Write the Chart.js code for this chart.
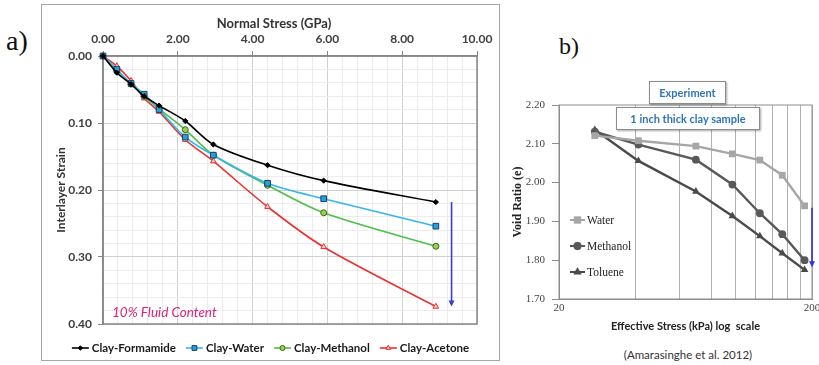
<!DOCTYPE html>
<html>
<head>
<meta charset="utf-8">
<script src="https://cdn.jsdelivr.net/npm/chart.js@4.4.1/dist/chart.umd.min.js"></script>
<style>
    html, body { margin: 0; padding: 0; background: #fff; }
    body { position: relative; width: 819px; height: 365px; overflow: hidden; }
    .tag { position: absolute; font-family: "Liberation Serif", serif; color: #111; line-height: 1; }
    #frame-a { position: absolute; left: 41px; top: 4px; width: 457px; height: 355px; border: 1.5px solid #a6a6a6; }
    #chart-a { position: absolute; left: 0; top: 0; }
    #chart-b { position: absolute; left: 505px; top: 95px; }
    .note { position: absolute; background: #fff; border: 1px solid #8c8c8c; box-shadow: 1px 1px 2px rgba(0,0,0,0.35);
            color: #2e75b6; font: bold 11px Lato, sans-serif; text-align: center; line-height: 21px; }
    #cite { position: absolute; left: 588px; width: 200px; top: 348px; text-align: center; font: 11.5px Lato, sans-serif; color: #333; }
</style>
</head>
<body>
<div class="tag" style="left:6px;top:27px;font-size:28px;">a)</div>
<div class="tag" style="left:559px;top:34px;font-size:24px;">b)</div>
<div id="frame-a"><canvas id="chart-a" width="457" height="355"></canvas></div>
<canvas id="chart-b" width="314" height="250"></canvas>
<div class="note" style="left:649px;top:81px;width:75px;height:21px;">Experiment</div>
<div class="note" style="left:616px;top:107px;width:142px;height:21px;">1 inch thick clay sample</div>
<div id="cite">(Amarasinghe et al. 2012)</div>
<script>
// --- chart a data: interlayer strain vs normal stress ---
const stressGPa = [0, 0.37, 0.75, 1.1, 1.5, 2.2, 2.95, 4.4, 5.9, 8.9];
const strainFormamide = [0, 0.025, 0.042, 0.060, 0.074, 0.097, 0.132, 0.163, 0.186, 0.218];
const strainWater = [0, 0.020, 0.041, 0.057, 0.080, 0.121, 0.148, 0.190, 0.213, 0.254];
const strainMethanol = [0, 0.022, 0.042, 0.060, 0.079, 0.110, 0.148, 0.193, 0.234, 0.284];
const strainAcetone = [0, 0.015, 0.037, 0.063, 0.083, 0.125, 0.157, 0.225, 0.285, 0.374];
const arrowA = { x: 9.32, from: 0.218, to: 0.374 };

// --- chart b data: void ratio vs effective stress (log) ---
const stressKPa = [27.7, 41.2, 69.5, 96.9, 124.4, 152.6, 187];
const voidWater = [2.121, 2.108, 2.094, 2.074, 2.058, 2.019, 1.940];
const voidMethanol = [2.131, 2.098, 2.059, 1.995, 1.921, 1.867, 1.800];
const voidToluene = [2.136, 2.056, 1.977, 1.914, 1.862, 1.818, 1.775];
const kpaGrid = [20, 40, 60, 80, 100, 120, 140, 160, 180, 200];
const arrowB = { x: 200, from: 1.935, to: 1.782 };

const pairs = (xs, ys) => xs.map((x, i) => ({ x: x, y: ys[i] }));
const isMult = (v, step) => Math.abs(v / step - Math.round(v / step)) < 1e-6;

function drawMarker(ctx, shape, x, y, r, fill, stroke, lw) {
    ctx.beginPath();
    if (shape === 'circle') {
        ctx.arc(x, y, r, 0, Math.PI * 2);
    } else if (shape === 'rect') {
        const s = r * Math.SQRT1_2;
        ctx.rect(x - s, y - s, 2 * s, 2 * s);
    } else if (shape === 'rectRot') {
        ctx.moveTo(x, y - r); ctx.lineTo(x + r, y); ctx.lineTo(x, y + r); ctx.lineTo(x - r, y); ctx.closePath();
    } else if (shape === 'triangle') {
        for (let k = 0; k < 3; k++) {
            const a = k * 2 * Math.PI / 3;
            const px = x + Math.sin(a) * r, py = y - Math.cos(a) * r;
            k === 0 ? ctx.moveTo(px, py) : ctx.lineTo(px, py);
        }
        ctx.closePath();
    }
    ctx.fillStyle = fill; ctx.fill();
    ctx.lineWidth = lw; ctx.strokeStyle = stroke; ctx.stroke();
}

function drawArrow(ctx, x, y0, y1, color) {
    ctx.save();
    ctx.strokeStyle = color; ctx.fillStyle = color; ctx.lineWidth = 1.6;
    ctx.beginPath(); ctx.moveTo(x, y0); ctx.lineTo(x, y1 - 5); ctx.stroke();
    ctx.beginPath(); ctx.moveTo(x - 3, y1 - 6); ctx.lineTo(x + 3, y1 - 6); ctx.lineTo(x, y1); ctx.closePath(); ctx.fill();
    ctx.restore();
}

function seriesA(label, values, line, fill, edge, shape, r) {
    return {
        label, data: pairs(stressGPa, values), borderColor: line, borderWidth: 1.6,
        pointStyle: shape, pointRadius: r, pointBackgroundColor: fill, pointBorderColor: edge,
        pointBorderWidth: 1, tension: 0.3, clip: false
    };
}

const datasetsA = [
    seriesA('Clay-Formamide', strainFormamide, '#000000', '#000000', '#000000', 'rectRot', 2.6),
    seriesA('Clay-Water', strainWater, '#35b6e8', '#23a3dc', '#1f3f66', 'rect', 4),
    seriesA('Clay-Methanol', strainMethanol, '#4cc04a', '#9ccf4a', '#3a6a22', 'circle', 3),
    seriesA('Clay-Acetone', strainAcetone, '#e8322f', '#f7c9c9', '#e0322f', 'triangle', 3.3)
];

const decorA = {
    id: 'decorA',
    beforeDatasetsDraw(chart) {
        const { ctx, chartArea: a } = chart;
        ctx.save();
        ctx.strokeStyle = '#868686'; ctx.lineWidth = 1.5;
        ctx.strokeRect(a.left, a.top, a.right - a.left, a.bottom - a.top);
        ctx.restore();
    },
    afterDraw(chart) {
        const { ctx, chartArea: a, scales: { x, y } } = chart;
        ctx.save();
        // axis title sits a little left of the plot centre, as in the source figure
        ctx.font = 'bold 13px Lato, sans-serif';
        ctx.fillStyle = '#333';
        ctx.textAlign = 'center';
        ctx.textBaseline = 'middle';
        ctx.fillText('Normal Stress (GPa)', (a.left + a.right) / 2 - 16, 19);
        ctx.textAlign = 'left';
        ctx.textBaseline = 'alphabetic';
        ctx.font = 'italic 13.5px Lato, sans-serif';
        ctx.fillStyle = '#d6257d';
        ctx.fillText('10% Fluid Content', a.left + 9, a.bottom - 7);
        ctx.restore();

        drawArrow(ctx, x.getPixelForValue(arrowA.x), y.getPixelForValue(arrowA.from), y.getPixelForValue(arrowA.to), '#3b3bd6');

        // legend under the plot: line with marker, then name
        ctx.save();
        ctx.font = 'bold 11.5px Lato, sans-serif';
        ctx.textBaseline = 'middle';
        const lineLen = 17, gap = 3, sep = 10;
        const widths = chart.data.datasets.map(d => lineLen + gap + ctx.measureText(d.label).width);
        const total = widths.reduce((s, w) => s + w, 0) + sep * (widths.length - 1);
        let lx = chart.width / 2 - total / 2;
        const ly = a.bottom + 24;
        chart.data.datasets.forEach((d, i) => {
            ctx.strokeStyle = d.borderColor; ctx.lineWidth = 1.6;
            ctx.beginPath(); ctx.moveTo(lx, ly); ctx.lineTo(lx + lineLen, ly); ctx.stroke();
            drawMarker(ctx, d.pointStyle, lx + lineLen / 2, ly, d.pointRadius * 0.85, d.pointBackgroundColor, d.pointBorderColor, 1);
            ctx.fillStyle = '#1a1a1a';
            ctx.fillText(d.label, lx + lineLen + gap, ly + 0.5);
            lx += widths[i] + sep;
        });
        ctx.restore();
    }
};

const axisFontA = { family: 'Lato', weight: 'bold', size: 12 };

new Chart(document.getElementById('chart-a'), {
    type: 'line',
    data: { datasets: datasetsA },
    options: {
        responsive: false,
        animation: false,
        layout: { padding: { left: 0, top: 0, right: 22, bottom: 36 } },
        plugins: { legend: { display: false }, tooltip: { enabled: false } },
        scales: {
            x: {
                type: 'linear', position: 'top', min: 0, max: 10,
                ticks: {
                    stepSize: 0.4, autoSkip: false, maxRotation: 0, padding: 5,
                    font: axisFontA, color: '#404040',
                    callback: v => isMult(v, 2) ? v.toFixed(2) : ''
                },
                grid: {
                    color: c => isMult(c.tick.value, 2) ? '#d0d0d0' : '#ececec',
                    tickColor: c => isMult(c.tick.value, 2) ? '#868686' : 'rgba(0,0,0,0)',
                    tickLength: 5
                },
                border: { color: '#868686', width: 1.5 },
                afterFit: s => { s.height = 51; s.paddingLeft = 0; s.paddingRight = 0; }
            },
            y: {
                type: 'linear', reverse: true, min: 0, max: 0.4,
                ticks: {
                    stepSize: 0.02, autoSkip: false, padding: 6,
                    font: axisFontA, color: '#404040',
                    callback: v => isMult(v, 0.1) ? v.toFixed(2) : ''
                },
                grid: {
                    color: c => isMult(c.tick.value, 0.1) ? '#d0d0d0' : '#ececec',
                    tickColor: c => isMult(c.tick.value, 0.1) ? '#868686' : 'rgba(0,0,0,0)',
                    tickLength: 5
                },
                border: { color: '#868686', width: 1.5 },
                title: { display: true, text: 'Interlayer Strain', font: { family: 'Lato', weight: 'bold', size: 12 }, color: '#333', padding: { top: 12, bottom: 0 } },
                afterFit: s => { s.width = 61; s.paddingTop = 0; s.paddingBottom = 0; }
            }
        }
    },
    plugins: [decorA]
});

// --- chart b ---
function seriesB(label, values, color, shape, r) {
    return {
        label, data: pairs(stressKPa, values), borderColor: color, borderWidth: 2.4,
        pointStyle: shape, pointRadius: r, pointBackgroundColor: color, pointBorderColor: color,
        pointBorderWidth: 0, tension: 0, clip: false
    };
}

const datasetsB = [
    seriesB('Water', voidWater, '#a6a6a6', 'rect', 4.8),
    seriesB('Methanol', voidMethanol, '#595959', 'circle', 3.9),
    seriesB('Toluene', voidToluene, '#4a4a4a', 'triangle', 4.4)
];

const decorB = {
    id: 'decorB',
    beforeDatasetsDraw(chart) {
        const { ctx, chartArea: a } = chart;
        ctx.save();
        ctx.strokeStyle = '#8c8c8c'; ctx.lineWidth = 1;
        ctx.strokeRect(a.left, a.top, a.right - a.left, a.bottom - a.top);
        ctx.restore();
    },
    afterDraw(chart) {
        const { ctx, chartArea: a, scales: { x, y } } = chart;
        drawArrow(ctx, x.getPixelForValue(arrowB.x), y.getPixelForValue(arrowB.from), y.getPixelForValue(arrowB.to), '#2f2fe6');

        // legend inside the plot, stacked on the left
        ctx.save();
        ctx.font = '11.5px "Liberation Serif", serif';
        ctx.textBaseline = 'middle';
        chart.data.datasets.forEach((d, i) => {
            const ly = a.top + 115 + i * 26;
            const lx = a.left + 11;
            ctx.strokeStyle = d.borderColor; ctx.lineWidth = 2;
            ctx.beginPath(); ctx.moveTo(lx, ly); ctx.lineTo(lx + 15, ly); ctx.stroke();
            drawMarker(ctx, d.pointStyle, lx + 7.5, ly, d.pointRadius, d.pointBackgroundColor, d.pointBorderColor, 0.5);
            ctx.fillStyle = '#222';
            ctx.fillText(d.label, lx + 17, ly + 0.5);
        });
        ctx.restore();
    }
};

new Chart(document.getElementById('chart-b'), {
    type: 'line',
    data: { datasets: datasetsB },
    options: {
        responsive: false,
        animation: false,
        layout: { padding: { left: 0, top: 10, right: 7, bottom: 0 } },
        plugins: { legend: { display: false }, tooltip: { enabled: false } },
        scales: {
            x: {
                type: 'logarithmic', min: 20, max: 200,
                afterBuildTicks: s => { s.ticks = kpaGrid.map(v => ({ value: v })); },
                ticks: {
                    autoSkip: false, maxRotation: 0, padding: 3,
                    font: { family: 'Liberation Serif', size: 11 }, color: '#444',
                    callback: v => (v === 20 || v === 200) ? String(v) : ''
                },
                grid: { color: '#b3b3b3', lineWidth: 1, drawTicks: false },
                border: { color: '#8c8c8c', width: 1 },
                title: { display: true, text: 'Effective Stress (kPa) log  scale', font: { family: 'Lato', weight: 'bold', size: 11 }, color: '#222', padding: { top: 0, bottom: 12 } },
                afterFit: s => { s.height = 46; s.paddingLeft = 0; s.paddingRight = 0; }
            },
            y: {
                type: 'linear', min: 1.7, max: 2.2,
                ticks: {
                    stepSize: 0.1, padding: 7,
                    font: { family: 'Liberation Serif', size: 11 }, color: '#444',
                    callback: v => v.toFixed(2)
                },
                grid: { drawOnChartArea: false, tickLength: 7, tickColor: '#8c8c8c' },
                border: { color: '#8c8c8c', width: 1 },
                title: { display: true, text: 'Void Ratio (e)', font: { family: 'Liberation Serif', weight: 'bold', size: 12 }, color: '#222', padding: { top: 6, bottom: 0 } },
                afterFit: s => { s.width = 54; s.paddingTop = 0; s.paddingBottom = 0; }
            }
        }
    },
    plugins: [decorB]
});
</script>
</body>
</html>
